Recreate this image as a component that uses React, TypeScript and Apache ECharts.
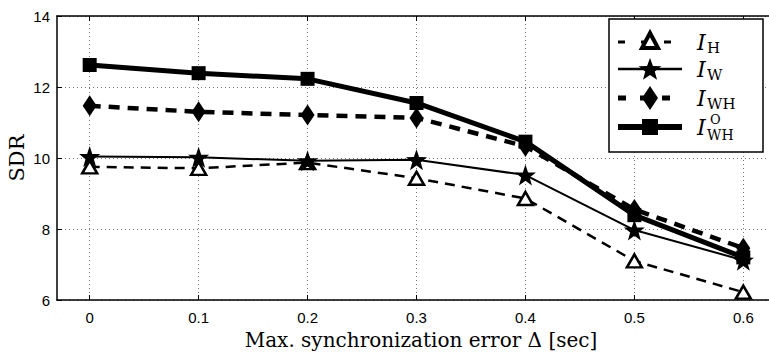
import React, { useEffect, useRef } from "react";
import * as echarts from "echarts";

const X_VALUES = [0, 0.1, 0.2, 0.3, 0.4, 0.5, 0.6];
const X_TICKS = [0, 0.1, 0.2, 0.3, 0.4, 0.5, 0.6];
const Y_TICKS = [6, 8, 10, 12, 14];

const I_H = [9.75, 9.71, 9.87, 9.43, 8.86, 7.1, 6.22];
const I_W = [10.04, 10.02, 9.92, 9.95, 9.52, 7.97, 7.12];
const I_WH = [11.47, 11.3, 11.21, 11.13, 10.33, 8.55, 7.46];
const I_WH_O = [12.62, 12.39, 12.23, 11.55, 10.46, 8.39, 7.2];

const X_NAME = "Max. synchronization error \u0394 [sec]";
const Y_NAME = "SDR";

const STAR =
  "path://M0,-10 L2.35,-3.24 L9.51,-3.09 L3.8,1.24 L5.88,8.09 L0,4 L-5.88,8.09 L-3.8,1.24 L-9.51,-3.09 L-2.35,-3.24 Z";

const pairs = (ys: number[]) => X_VALUES.map((x, i) => [x, ys[i]]);

function starPoints(cx: number, cy: number, R: number, r: number) {
  const pts: number[][] = [];
  for (let i = 0; i < 10; i++) {
    const a = -Math.PI / 2 + (i * Math.PI) / 5;
    const rad = i % 2 === 0 ? R : r;
    pts.push([cx + rad * Math.cos(a), cy + rad * Math.sin(a)]);
  }
  return pts;
}

export default function App() {
  const ref = useRef<HTMLDivElement>(null);
  useEffect(() => {
    if (!ref.current) return;
    const chart = echarts.init(ref.current, null, { renderer: "svg" });
    const serif = "DejaVu Serif";
    const dotted = { color: "#777", width: 1, type: [1, 3] as any };

    const rows = [42, 69, 98, 127];
    const lx1 = 618,
      lx2 = 682,
      mx = 650,
      tx = 697;
    const legendEls: any[] = [
      {
        type: "rect",
        shape: { x: 609, y: 19, width: 154, height: 133 },
        style: { fill: "#fff", stroke: "#000", lineWidth: 1.5 },
        z: 100,
      },
      {
        type: "line",
        shape: { x1: lx1, y1: rows[0], x2: lx2, y2: rows[0] },
        style: { stroke: "#000", lineWidth: 3, lineDash: [7, 16] },
        z: 101,
      },
      {
        type: "polygon",
        shape: { points: [[mx, rows[0] - 9], [mx + 8, rows[0] + 6], [mx - 8, rows[0] + 6]] },
        style: { fill: "#fff", stroke: "#000", lineWidth: 4 },
        z: 102,
      },
      {
        type: "line",
        shape: { x1: lx1, y1: rows[1], x2: lx2, y2: rows[1] },
        style: { stroke: "#000", lineWidth: 2.5 },
        z: 101,
      },
      {
        type: "polygon",
        shape: { points: starPoints(mx, rows[1] + 1, 12, 5) },
        style: { fill: "#000" },
        z: 102,
      },
      {
        type: "line",
        shape: { x1: lx1, y1: rows[2], x2: lx2, y2: rows[2] },
        style: { stroke: "#000", lineWidth: 5, lineDash: [8, 14] },
        z: 101,
      },
      {
        type: "polygon",
        shape: { points: [[mx, rows[2] - 12], [mx + 8, rows[2]], [mx, rows[2] + 12], [mx - 8, rows[2]]] },
        style: { fill: "#000" },
        z: 102,
      },
      {
        type: "line",
        shape: { x1: lx1, y1: rows[3], x2: lx2, y2: rows[3] },
        style: { stroke: "#000", lineWidth: 6 },
        z: 101,
      },
      {
        type: "rect",
        shape: { x: mx - 8, y: rows[3] - 8, width: 16, height: 16 },
        style: { fill: "#000" },
        z: 102,
      },
    ];
    const mainI = (y: number) => ({
      type: "text",
      x: tx,
      y,
      style: {
        text: "I",
        font: `italic 22px "${serif}"`,
        fill: "#000",
        verticalAlign: "middle",
        align: "left",
      },
      z: 102,
    });
    const small = (x: number, y: number, text: string, size = 15) => ({
      type: "text",
      x,
      y,
      style: {
        text,
        font: `${size}px "${serif}"`,
        fill: "#000",
        verticalAlign: "middle",
        align: "left",
      },
      z: 102,
    });
    const sx = 707;
    legendEls.push(mainI(rows[0]), small(sx, rows[0] + 6, "H"));
    legendEls.push(mainI(rows[1]), small(sx, rows[1] + 6, "W"));
    legendEls.push(mainI(rows[2]), small(sx, rows[2] + 6, "WH"));
    legendEls.push(mainI(rows[3]), small(sx + 3, rows[3] - 8, "O", 13), small(sx, rows[3] + 8, "WH", 14));

    const option: any = {
      animation: false,
      backgroundColor: "#fff",
      grid: { left: 57, top: 16, width: 719, height: 284, containLabel: false, outerBoundsMode: "none" },
      xAxis: [
        {
          type: "value",
          min: -0.03,
          max: 0.63,
          position: "bottom",
          axisLine: { show: true, onZero: false, lineStyle: { color: "#000", width: 1.5 } },
          axisTick: { show: true, inside: true, length: 5, customValues: X_TICKS, lineStyle: { color: "#000" } },
          axisLabel: {
            customValues: X_TICKS,
            formatter: (v: number) => String(Math.round(v * 10) / 10),
            fontFamily: "Liberation Sans",
            fontSize: 15,
            color: "#000",
            margin: 10,
          },
          splitLine: { show: true, lineStyle: dotted },
          name: X_NAME,
          nameLocation: "middle",
          nameGap: 30,
          nameTextStyle: { fontFamily: serif, fontSize: 20, color: "#000", padding: [0, 0, 0, 9] },
        },
        {
          type: "value",
          min: -0.03,
          max: 0.63,
          position: "top",
          axisLine: { show: true, onZero: false, lineStyle: { color: "#000", width: 1.5 } },
          axisTick: { show: true, inside: true, length: 5, customValues: X_TICKS, lineStyle: { color: "#000" } },
          axisLabel: { show: false },
          splitLine: { show: false },
        },
      ],
      yAxis: {
        type: "value",
        min: Y_TICKS[0],
        max: Y_TICKS[Y_TICKS.length - 1],
        interval: 2,
        axisLine: { show: true, onZero: false, lineStyle: { color: "#000", width: 1.5 } },
        axisTick: { show: true, inside: true, length: 5, lineStyle: { color: "#000" } },
        axisLabel: { fontFamily: "Liberation Sans", fontSize: 15, color: "#000", margin: 7 },
        splitLine: { show: true, lineStyle: dotted },
        name: Y_NAME,
        nameLocation: "middle",
        nameRotate: 90,
        nameGap: 30,
        nameMoveOverlap: false,
        nameTextStyle: { fontFamily: serif, fontSize: 21, color: "#000" },
      },
      series: [
        {
          name: "I_H",
          type: "line",
          data: pairs(I_H),
          symbol: "triangle",
          symbolSize: [15, 13],
          lineStyle: { color: "#000", width: 2.5, type: [10, 7] },
          itemStyle: { color: "#fff", borderColor: "#000", borderWidth: 2.5 },
          z: 2,
        },
        {
          name: "I_W",
          type: "line",
          data: pairs(I_W),
          symbol: STAR,
          symbolSize: 21,
          lineStyle: { color: "#000", width: 2 },
          itemStyle: { color: "#000" },
          z: 3,
        },
        {
          name: "I_WH",
          type: "line",
          data: pairs(I_WH),
          symbol: "diamond",
          symbolSize: [14, 21],
          lineStyle: { color: "#000", width: 4.5, type: [11, 8] },
          itemStyle: { color: "#000" },
          z: 4,
        },
        {
          name: "I_WH_O",
          type: "line",
          data: pairs(I_WH_O),
          symbol: "rect",
          symbolSize: 14,
          lineStyle: { color: "#000", width: 5 },
          itemStyle: { color: "#000" },
          z: 5,
        },
      ],
      graphic: legendEls,
    };
    chart.setOption(option);
    return () => chart.dispose();
  }, []);
  return (
    <div
      ref={ref}
      style={{ position: "absolute", left: 0, top: 0, width: 769, height: 354, background: "#fff" }}
    />
  );
}
